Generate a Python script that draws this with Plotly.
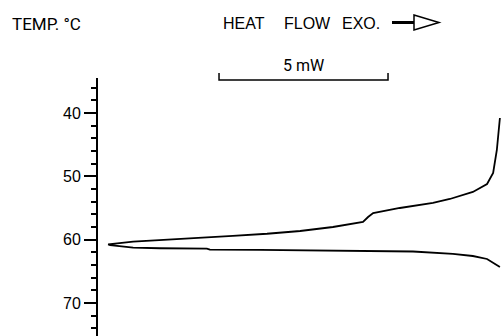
import plotly.graph_objects as go

# Data (heat flow in mW relative to the temperature axis, temperature in °C)
heat_flow_mw = [11.92, 11.89, 11.83, 11.72, 11.54, 11.12, 10.44, 9.94, 8.96, 8.17, 8.02, 7.87,
                6.98, 6.01, 5.03, 4.02, 3.05, 2.07, 1.07, 0.33,
                0.39, 1.07, 1.86, 3.25, 3.34, 4.82, 5.62, 7.99, 9.35, 10.53, 11.12, 11.54, 11.92]
temperature_c = [40.79, 42.68, 45.84, 49.47, 51.21, 52.47, 53.58, 54.21, 55.00, 55.79, 56.42, 57.21,
                 58.00, 58.63, 59.07, 59.40, 59.68, 59.92, 60.32, 60.76,
                 60.87, 61.25, 61.36, 61.42, 61.58, 61.62, 61.65, 61.79, 61.87, 62.26, 62.58, 63.05, 64.32]
major_ticks = [40, 50, 60, 70]
scale_bar_start_mw = 3.61
scale_bar_len_mw = 5

W, H = 501, 336
def px(x):
    return x / W
def py(y):
    return 1 - y / H

FONT = "Liberation Sans"

fig = go.Figure()
fig.add_trace(go.Scatter(x=heat_flow_mw, y=temperature_c, mode="lines",
                         line=dict(color="black", width=1.8), hoverinfo="skip",
                         showlegend=False))

fig.update_layout(
    width=W, height=H, margin=dict(l=0, r=0, t=0, b=0),
    paper_bgcolor="white", plot_bgcolor="white",
    font=dict(family=FONT, color="black", size=15),
    xaxis=dict(visible=False, range=[-97 / 33.8, (W - 97) / 33.8], domain=[0, 1]),
    yaxis=dict(
        domain=[0, 1 - 78 / H],
        range=[40 + (H - 113) / 6.333, 40 - 35 / 6.333],
        anchor="free", position=97 / W,
        showline=True, linecolor="black", linewidth=2,
        ticks="outside", ticklen=12, tickwidth=2, tickcolor="black",
        tickvals=major_ticks, ticktext=[str(v) for v in major_ticks],
        tickfont=dict(family=FONT, size=16, color="black"),
        minor=dict(dtick=2, tick0=0, ticks="outside", ticklen=5, tickwidth=1.5,
                   tickcolor="black", showgrid=False),
        showgrid=False, zeroline=False,
    ),
)

ann = [
    dict(text="TEMP. °C", x=px(46), y=py(24), size=17, family="Roboto"),
    dict(text="HEAT", x=px(244), y=py(23.5), size=16, family=FONT),
    dict(text="FLOW", x=px(307), y=py(23.5), size=16, family=FONT),
    dict(text="EXO.", x=px(361), y=py(23.5), size=16, family=FONT),
    dict(text="5 mW", x=px(303), y=py(65), size=16, family="Roboto"),
]
for a in ann:
    fig.add_annotation(text=a["text"], x=a["x"], y=a["y"], xref="paper", yref="paper",
                       xanchor="center", yanchor="middle", showarrow=False,
                       font=dict(family=a["family"], size=a["size"], color="black"))

# scale bar (in data units of heat flow)
x0, x1 = scale_bar_start_mw, scale_bar_start_mw + scale_bar_len_mw
fig.add_shape(type="path", xref="x", yref="paper",
              path=f"M {x0},{py(73)} L {x0},{py(80)} L {x1},{py(80)} L {x1},{py(73)}",
              line=dict(color="black", width=1.5))

# exotherm arrow
fig.add_shape(type="line", xref="paper", yref="paper", x0=px(392), y0=py(22.5), x1=px(414), y1=py(22.5),
              line=dict(color="black", width=3))
fig.add_shape(type="path", xref="paper", yref="paper",
              path=f"M {px(414)},{py(15)} L {px(439)},{py(22.5)} L {px(414)},{py(30)} Z",
              line=dict(color="black", width=1.5), fillcolor="white")

fig.write_html("out.html")
